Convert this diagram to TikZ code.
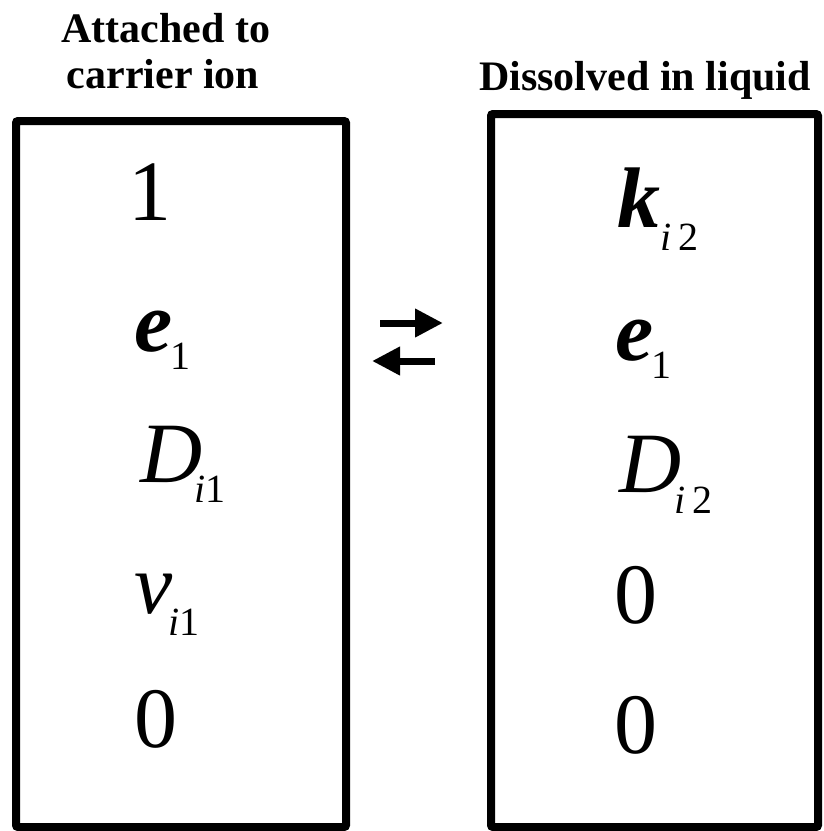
\documentclass[tikz,border=0pt]{standalone}
\usepackage{fontspec}
\setmainfont{Liberation Serif}
\usetikzlibrary{arrows.meta}
\newcommand\bigsym{\fontsize{86}{86}\selectfont}
\newcommand\headfont{\fontsize{42}{46}\selectfont\bfseries}
% lowered subscript: kern, depth, italic part, upright part
\newcommand\lowsub[4]{\kern#1pt\raisebox{-#2pt}{\fontsize{40}{40}\selectfont\itshape #3\upshape #4}}
\begin{document}
\begin{tikzpicture}[x=1pt,y=-1pt,>={Triangle[length=28pt,width=27pt]},line width=7pt,
  entry/.style={anchor=base west,inner sep=0pt,font=\bigsym},
  head/.style={anchor=base,inner sep=0pt,font=\headfont}]
  \useasboundingbox (0,0) rectangle (824,831);

  \coordinate (L1) at (16,121);
  \coordinate (L2) at (346,827);
  \coordinate (R1) at (491,114);
  \coordinate (R2) at (818,827);

  % boxes
  \draw[line width=8pt,rounded corners=2pt] (L1) rectangle (L2);
  \draw[line width=8pt,rounded corners=2pt] (R1) rectangle (R2);

  % headings
  \node[head] (hl1) at (166,42) {Attached to};
  \node[head] (hl2) at (163,88) {carrier ion};
  \node[head] (hr) at (645,90) {Dissolved in liquid};

  % left column
  \node[entry] (a1) at (125,220) {1};
  \node[entry] (a2) at (131,351) {\textbf{\textit{e}}\lowsub{-2}{18}{}{1}};
  \node[entry] (a3) at (137,482) {\textit{D}\lowsub{-8}{20}{i}{1}};
  \node[entry] (a4) at (131,613) {\textit{v}\lowsub{-4}{22}{i}{1}};
  \node[entry] (a5) at (131,747) {0};

  % right column
  \node[entry] (b1) at (614,227) {\textbf{\textit{k}}\lowsub{0}{23}{i\,}{2}};
  \node[entry] (b2) at (612,360) {\textbf{\textit{e}}\lowsub{-2}{18}{}{1}};
  \node[entry] (b3) at (616,492) {\textit{D}\lowsub{-7}{21}{i\,}{2}};
  \node[entry] (b4) at (611,623) {0};
  \node[entry] (b5) at (611,753) {0};

  % exchange arrows
  \coordinate (u1) at (380,323);
  \coordinate (u2) at (443,323);
  \coordinate (d1) at (435,361);
  \coordinate (d2) at (372,361);
  \draw[->] (u1) -- (u2);
  \draw[->] (d1) -- (d2);
\end{tikzpicture}
\end{document}
